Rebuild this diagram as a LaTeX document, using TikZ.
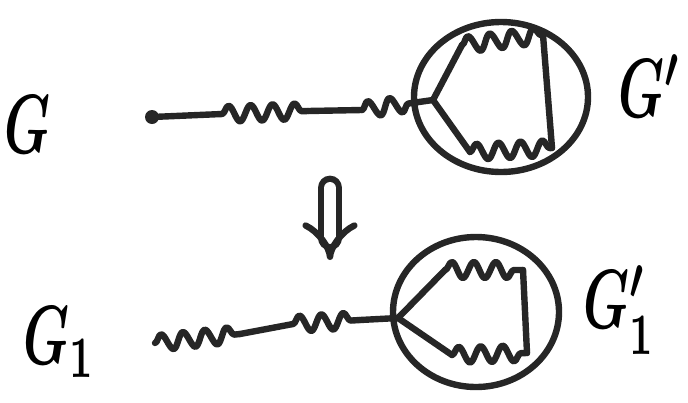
\documentclass[tikz,border=0pt]{standalone}
\usetikzlibrary{arrows.meta,decorations.pathmorphing,shapes.geometric}
\tikzset{
  pen/.style={line width=3.2pt,line cap=round,line join=round,draw=black!85},
  wiggle/.style={pen,decorate,decoration={snake,amplitude=4pt,segment length=11pt}},
  blob/.style={pen,ellipse,inner sep=0pt},
  lbl/.style={font=\boldmath,xscale=2.6,yscale=4.2},
}
\begin{document}
\begin{tikzpicture}[x=0.5pt,y=-0.5pt]
\useasboundingbox (0,0) rectangle (688,402);
% upper graph G with its blob G'
\node[lbl] (G) at (28,125) {$G$};
\node[circle,fill=black!85,inner sep=0pt,minimum size=7pt] (dotA) at (152,117) {};
\coordinate (a1) at (222,114);
\coordinate (a2) at (308,111);
\coordinate (a3) at (362,110);
\coordinate (a4) at (412,103);
\coordinate (vA) at (433,100);
\draw[pen] (dotA.center) -- (a1);
\draw[wiggle] (a1) -- (a2);
\draw[pen] (a2) -- (a3);
\draw[wiggle] (a3) -- (a4);
\draw[pen] (a4) -- (vA);
% loop inside the blob
\coordinate (tlA) at (462,45);
\coordinate (trA) at (543,35);
\coordinate (brA) at (552,148);
\coordinate (blA) at (470,152);
\draw[pen] (vA) -- (tlA);
\draw[wiggle] (tlA) -- (trA);
\draw[pen] (trA) -- (brA);
\draw[wiggle] (blA) -- (brA);
\draw[pen] (vA) -- (blA);
\node[blob,minimum width=87pt,minimum height=75pt] (bubA) at (501,97) {};
\node[lbl] (Gp) at (650,86) {$G'$};

% reduction arrow
\coordinate (arrT) at (330,188);
\coordinate (arrB) at (330,260);
\draw[pen,double,double distance=6pt,-{Implies[scale=1.3]}] (arrT) -- (arrB);

% lower graph G_1 with its blob G_1'
\node[lbl] (G1) at (60,342) {$G_1$};
\coordinate (b0) at (155,343);
\coordinate (b1) at (240,334);
\coordinate (b2) at (293,324);
\coordinate (b3) at (360,320);
\coordinate (vB) at (398,318);
\draw[wiggle] (b0) -- (b1);
\draw[pen] (b1) -- (b2);
\draw[wiggle] (b2) -- (b3);
\draw[pen] (b3) -- (vB);
\coordinate (tlB) at (445,270);
\coordinate (trB) at (523,270);
\coordinate (brB) at (527,353);
\coordinate (blB) at (452,355);
\draw[pen] (vB) -- (tlB);
\draw[wiggle] (tlB) -- (trB);
\draw[pen] (trB) -- (brB);
\draw[wiggle] (blB) -- (brB);
\draw[pen] (vB) -- (blB);
\node[blob,minimum width=83pt,minimum height=75pt] (bubB) at (476,312) {};
\node[lbl] (G1p) at (620,310) {$G'_1$};
\end{tikzpicture}
\end{document}
